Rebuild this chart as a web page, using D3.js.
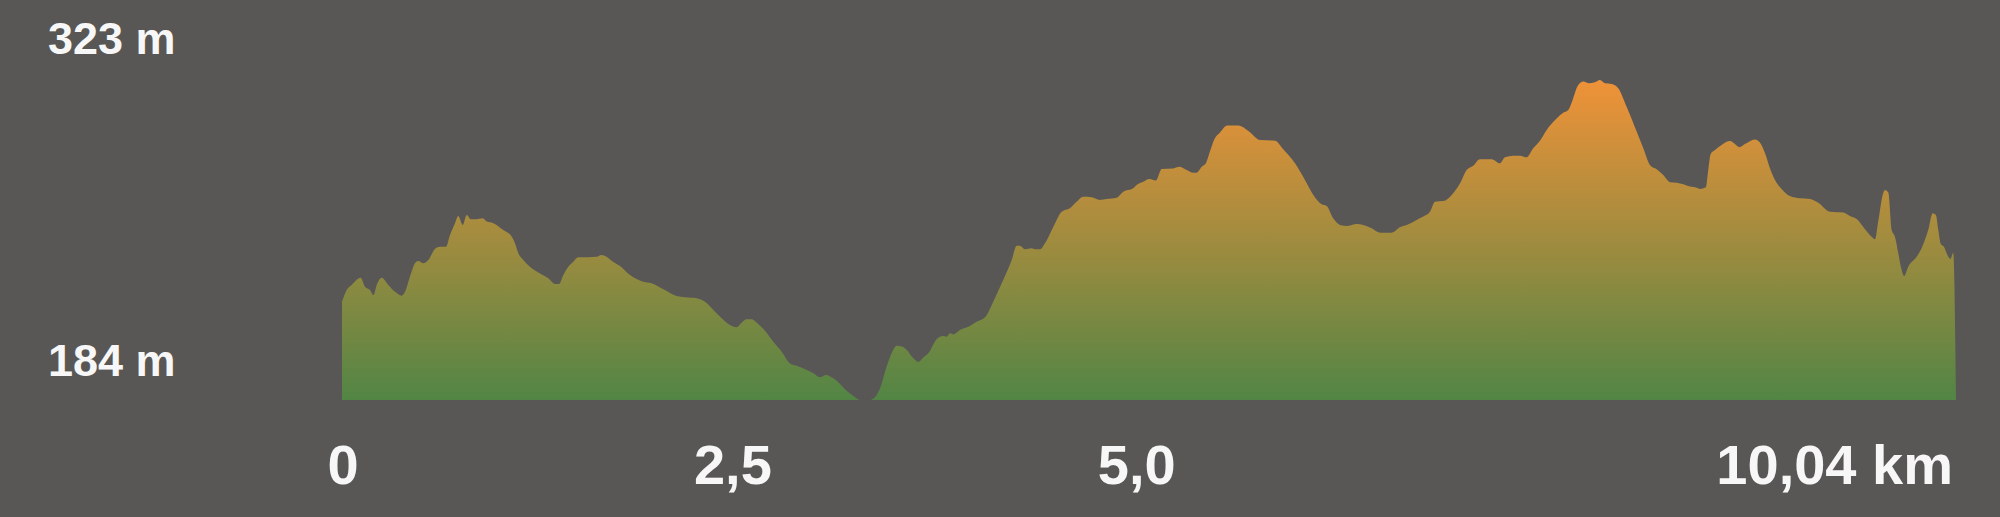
<!DOCTYPE html>
<html>
<head>
<meta charset="utf-8">
<script src="https://cdn.jsdelivr.net/npm/d3@7"></script>
<style>
  html, body { margin: 0; padding: 0; background: #595755; }
  svg { display: block; }
  text { font-family: "Liberation Sans", Arial, sans-serif; font-weight: bold; fill: #f7f7f7; }
</style>
</head>
<body>
<svg id="chart" width="2000" height="517"></svg>
<script>
// distance along the route (km)
const distances = [
  0, 0.029, 0.060, 0.116, 0.143, 0.174, 0.195, 0.216, 0.247, 0.288,
  0.330, 0.371, 0.392, 0.423, 0.454, 0.475, 0.506, 0.537, 0.578, 0.610,
  0.647, 0.672, 0.703, 0.723, 0.751, 0.776, 0.802, 0.838, 0.875, 0.900,
  0.941, 1.003, 1.056, 1.076, 1.097, 1.128, 1.180, 1.232, 1.283, 1.325,
  1.350, 1.377, 1.408, 1.439, 1.470, 1.532, 1.584, 1.615, 1.646, 1.678,
  1.729, 1.791, 1.874, 1.926, 1.999, 2.082, 2.134, 2.206, 2.258, 2.310,
  2.362, 2.403, 2.455, 2.486, 2.517, 2.548, 2.580, 2.631, 2.683, 2.735,
  2.787, 2.828, 2.891, 2.932, 2.973, 3.011, 3.056, 3.098, 3.139, 3.181,
  3.222, 3.284, 3.326, 3.347, 3.388, 3.419, 3.450, 3.482, 3.513, 3.554,
  3.585, 3.616, 3.647, 3.699, 3.740, 3.761, 3.782, 3.803, 3.844, 3.896,
  3.948, 4.000, 4.051, 4.113, 4.166, 4.197, 4.217, 4.248, 4.290, 4.311,
  4.342, 4.373, 4.425, 4.477, 4.528, 4.570, 4.611, 4.663, 4.715, 4.757,
  4.819, 4.860, 4.922, 4.943, 4.984, 5.022, 5.063, 5.099, 5.171, 5.208,
  5.254, 5.295, 5.316, 5.348, 5.374, 5.399, 5.426, 5.461, 5.507, 5.575,
  5.648, 5.710, 5.804, 5.855, 5.928, 5.990, 6.042, 6.094, 6.125, 6.166,
  6.208, 6.250, 6.312, 6.353, 6.405, 6.457, 6.530, 6.581, 6.623, 6.685,
  6.737, 6.768, 6.799, 6.851, 6.903, 6.955, 6.996, 7.037, 7.079, 7.152,
  7.203, 7.234, 7.286, 7.328, 7.369, 7.410, 7.452, 7.494, 7.546, 7.597,
  7.628, 7.659, 7.684, 7.722, 7.753, 7.794, 7.825, 7.856, 7.898, 7.939,
  7.991, 8.054, 8.095, 8.136, 8.178, 8.219, 8.261, 8.302, 8.344, 8.385,
  8.427, 8.447, 8.484, 8.499, 8.514, 8.541, 8.582, 8.634, 8.665, 8.692,
  8.727, 8.789, 8.820, 8.852, 8.883, 8.914, 8.955, 9.007, 9.069, 9.131,
  9.183, 9.256, 9.339, 9.380, 9.422, 9.474, 9.515, 9.536, 9.556, 9.584,
  9.598, 9.619, 9.640, 9.660, 9.681, 9.698, 9.718, 9.743, 9.795, 9.826,
  9.867, 9.895, 9.915, 9.930, 9.945, 9.965, 9.992, 10.006, 10.023, 10.04
];
// elevation (m)
const elevations = [
  226.7, 231.8, 234.0, 237.1, 233.2, 231.8, 229.6, 234.0, 237.1, 234.0,
  231.0, 229.3, 231.0, 237.6, 243.4, 244.4, 243.4, 244.8, 249.6, 250.6,
  250.6, 255.7, 260.8, 263.9, 260.0, 264.4, 262.5, 262.5, 262.9, 261.5,
  260.8, 257.8, 254.9, 252.1, 247.7, 244.8, 241.2, 239.0, 236.9, 234.4,
  234.4, 238.3, 241.9, 244.1, 246.0, 246.0, 246.2, 247.0, 246.2, 244.4,
  242.2, 238.3, 235.4, 234.7, 232.1, 229.2, 228.6, 228.2, 226.7, 223.1,
  219.5, 217.0, 215.6, 217.6, 219.1, 219.1, 217.6, 214.1, 209.3, 205.0,
  199.9, 198.9, 197.0, 195.6, 193.9, 194.9, 193.4, 191.0, 188.0, 185.7,
  184.0, 184.0, 186.2, 189.1, 198.5, 204.3, 207.6, 207.2, 205.7, 202.1,
  200.6, 202.5, 204.3, 210.4, 211.8, 211.5, 213.0, 212.5, 214.4, 215.8,
  218.0, 219.9, 226.7, 236.1, 244.8, 251.0, 251.0, 249.5, 249.9, 249.5,
  249.5, 252.1, 259.3, 265.8, 267.3, 270.1, 272.3, 272.1, 270.9, 271.3,
  271.9, 274.5, 276.0, 277.4, 278.8, 280.0, 279.3, 284.3, 284.6, 285.3,
  283.9, 282.7, 282.7, 285.3, 286.8, 291.9, 297.2, 300.1, 303.2, 303.2,
  300.3, 296.9, 296.6, 292.9, 286.8, 279.6, 273.1, 269.0, 268.3, 262.9,
  260.0, 259.6, 260.5, 260.0, 258.6, 256.7, 256.7, 259.0, 260.0, 262.2,
  264.1, 265.8, 270.1, 270.4, 273.1, 278.1, 283.9, 285.8, 288.6, 288.6,
  286.8, 289.4, 290.1, 290.1, 289.4, 293.3, 296.6, 301.3, 305.6, 308.8,
  310.0, 315.1, 320.1, 322.3, 321.6, 322.0, 323.0, 321.6, 321.3, 319.4,
  311.4, 300.5, 293.3, 286.1, 284.2, 281.7, 278.6, 278.4, 277.7, 276.7,
  276.2, 275.7, 276.4, 283.9, 290.9, 292.6, 294.8, 296.5, 295.2, 293.8,
  295.2, 297.2, 295.8, 291.2, 284.6, 279.6, 275.7, 272.6, 271.6, 271.3,
  269.7, 265.8, 265.4, 263.9, 262.6, 258.2, 254.9, 253.8, 261.5, 273.1,
  275.2, 274.1, 257.8, 254.9, 247.7, 241.6, 237.9, 241.9, 246.2, 249.9,
  257.8, 265.1, 264.4, 257.8, 251.8, 250.6, 246.2, 245.3, 248.0, 184.0
];
const elevationExtent = [184, 323];
const yTickValues = [323, 184];
const yTickLabels = ["323 m", "184 m"];
const xTickValues = [0, 2.5, 5.0, 10.04];
const xTickLabels = ["0", "2,5", "5,0", "10,04 km"];

const data = distances.map((d, i) => ({ d, e: elevations[i] }));

const svg = d3.select("#chart");
const W = 2000, H = 517;
svg.append("rect").attr("width", W).attr("height", H).attr("fill", "#595755");

const x = d3.scaleLinear().domain([0, 10.04]).range([342, 1956]);
const y = d3.scaleLinear().domain(elevationExtent).range([400, 80]);

const defs = svg.append("defs");
const grad = defs.append("linearGradient")
  .attr("id", "elevGrad")
  .attr("gradientUnits", "userSpaceOnUse")
  .attr("x1", 0).attr("x2", 0)
  .attr("y1", y(elevationExtent[0])).attr("y2", y(elevationExtent[1]));
grad.append("stop").attr("offset", "0%").attr("stop-color", "#528545");
grad.append("stop").attr("offset", "100%").attr("stop-color", "#ef9238");

const area = d3.area()
  .x(p => x(p.d))
  .y0(y(elevationExtent[0]))
  .y1(p => y(p.e))
  .curve(d3.curveMonotoneX);

svg.append("path")
  .datum(data)
  .attr("d", area)
  .attr("fill", "url(#elevGrad)");

// y labels
const yOffsets = [-26, -24];
svg.selectAll("text.ylab")
  .data(yTickValues)
  .enter().append("text")
  .attr("class", "ylab")
  .attr("x", 48)
  .attr("y", (v, i) => y(v) + yOffsets[i])
  .attr("font-size", 45)
  .text((v, i) => yTickLabels[i]);

// x labels
const xDx = [1, -11, -9, -3];
const xAnchor = ["middle", "middle", "middle", "end"];
svg.selectAll("text.xlab")
  .data(xTickValues)
  .enter().append("text")
  .attr("class", "xlab")
  .attr("x", (v, i) => x(v) + xDx[i])
  .attr("y", 484)
  .attr("text-anchor", (v, i) => xAnchor[i])
  .attr("font-size", 56)
  .text((v, i) => xTickLabels[i]);
</script>
</body>
</html>
